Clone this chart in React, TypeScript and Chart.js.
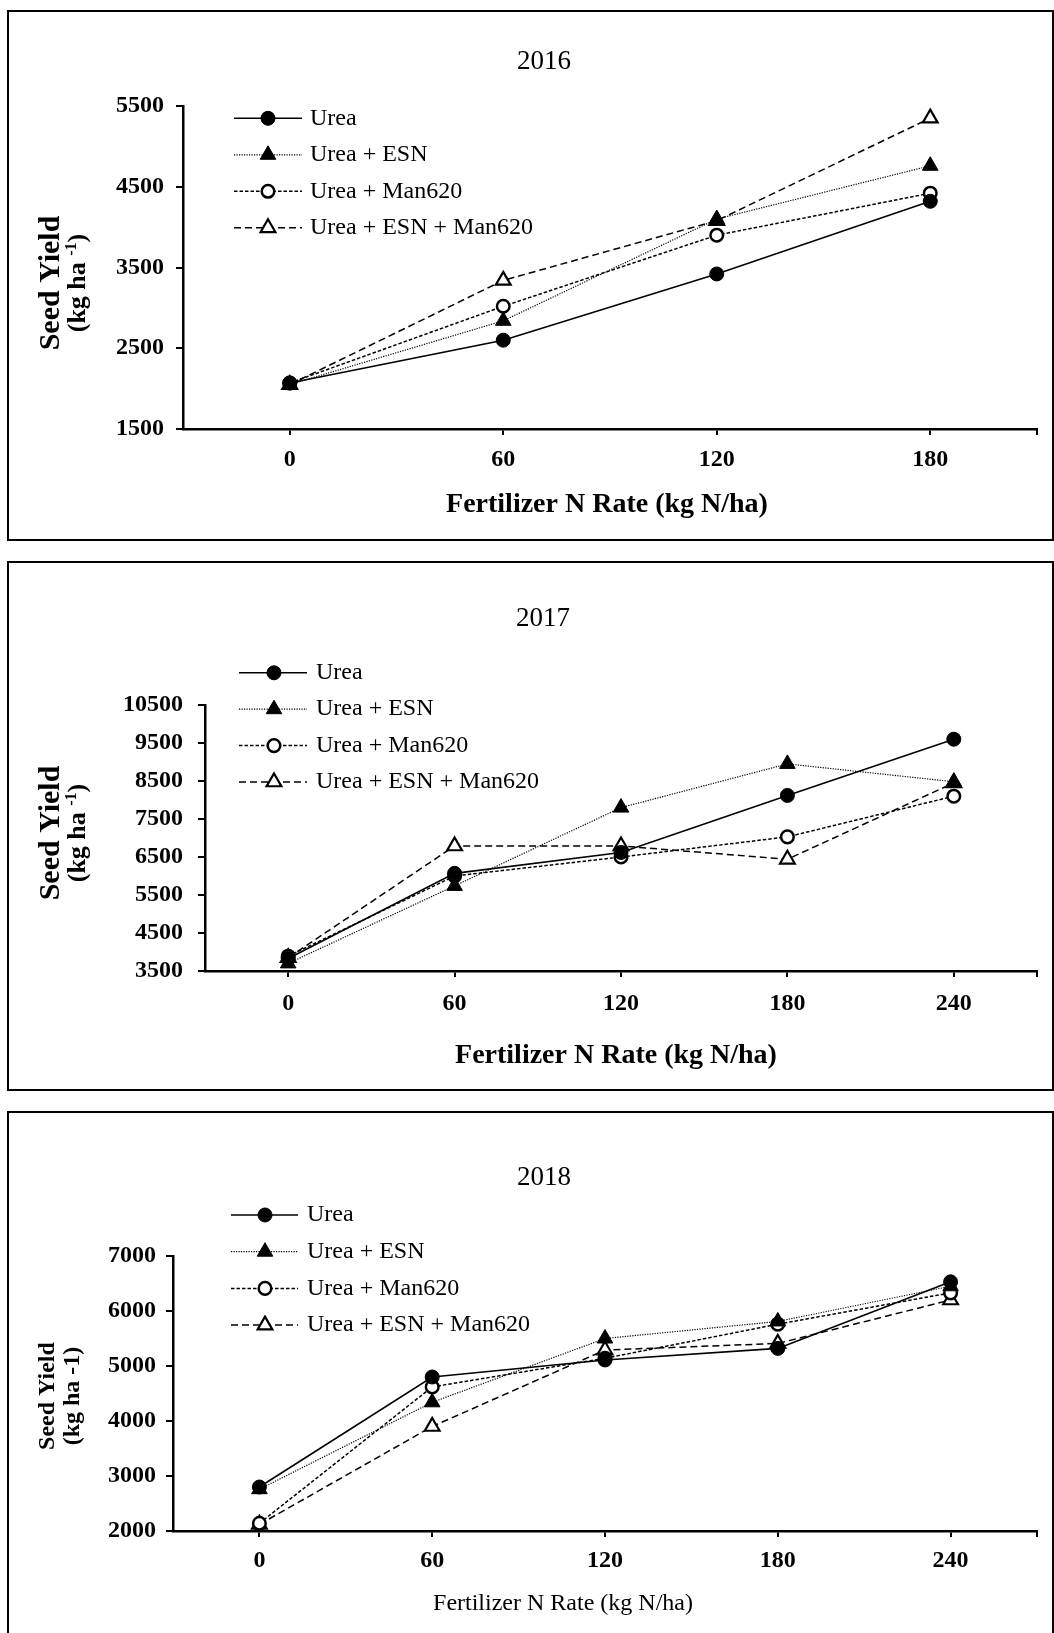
import React, { useEffect, useRef } from 'react';
import { Chart, registerables } from 'chart.js';

Chart.register(...registerables);

const FONT = "'Liberation Serif', 'Times New Roman', Times, serif";

const SERIES_NAMES = ['Urea', 'Urea + ESN', 'Urea + Man620', 'Urea + ESN + Man620'];

// ---- 2016 ----
const rates2016 = ['0', '60', '120', '180'];
const urea2016 = [2070, 2600, 3420, 4320];
const ureaEsn2016 = [2050, 2840, 4100, 4760];
const ureaMan2016 = [2070, 3020, 3900, 4420];
const ureaEsnMan2016 = [2050, 3340, 4080, 5350];
const yRange2016 = [1500, 5500];

// ---- 2017 ----
const rates2017 = ['0', '60', '120', '180', '240'];
const urea2017 = [3830, 6070, 6620, 8120, 9600];
const ureaEsn2017 = [3700, 5740, 7800, 8950, 8480];
const ureaMan2017 = [3890, 6000, 6500, 7030, 8100];
const ureaEsnMan2017 = [3850, 6790, 6790, 6440, 8450];
const yRange2017 = [3500, 10500];

// ---- 2018 ----
const rates2018 = ['0', '60', '120', '180', '240'];
const urea2018 = [2800, 4800, 5110, 5320, 6530];
const ureaEsn2018 = [2760, 4340, 5500, 5810, 6450];
const ureaMan2018 = [2140, 4620, 5140, 5760, 6330];
const ureaEsnMan2018 = [2120, 3900, 5290, 5410, 6200];
const yRange2018 = [2000, 7000];

const yStep = 1000;

type Style = {
  dash: number[];
  lineWidth: number;
  pointStyle: 'circle' | 'triangle';
  pointRadius: number;
  pointBorderWidth: number;
  pointFill: string;
};

const STYLES: Style[] = [
  { dash: [], lineWidth: 1.6, pointStyle: 'circle', pointRadius: 7, pointBorderWidth: 1, pointFill: '#000' },
  { dash: [1.2, 1.3], lineWidth: 1.2, pointStyle: 'triangle', pointRadius: 9, pointBorderWidth: 1, pointFill: '#000' },
  { dash: [3.5, 2], lineWidth: 1.5, pointStyle: 'circle', pointRadius: 6.3, pointBorderWidth: 2.5, pointFill: '#fff' },
  { dash: [7, 4], lineWidth: 1.5, pointStyle: 'triangle', pointRadius: 8.5, pointBorderWidth: 2.2, pointFill: '#fff' },
];

type UnitPart = { text: string; size: number; rise: number };

type PanelCfg = {
  top: number;
  height: number;
  labels: string[];
  series: number[][];
  yRange: number[];
  title: string;
  titleX: number;
  titleY: number;
  caLeft: number;
  caTop: number;
  caBottom: number;
  caRight: number;
  yTickPad: number;
  xTickPad: number;
  tickSize: number;
  xTitle: string;
  xTitleBold: boolean;
  xTitleSize: number;
  xTitleX: number;
  xTitleY: number;
  yTitleSize: number;
  yTitle1X: number;
  yTitle2X: number;
  yTitleCY: number;
  unitParts: UnitPart[];
  legX0: number;
  legX1: number;
  legMarkX: number;
  legTextX: number;
  legY: number;
  legStep: number;
};

const PANEL_LEFT = 7;
const PANEL_WIDTH = 1047;

const panels: PanelCfg[] = [
  {
    top: 10, height: 531,
    labels: rates2016,
    series: [urea2016, ureaEsn2016, ureaMan2016, ureaEsnMan2016],
    yRange: yRange2016,
    title: '2016', titleX: 537, titleY: 58.8,
    caLeft: 176, caTop: 96, caBottom: 419, caRight: 1030,
    yTickPad: 12, xTickPad: 10, tickSize: 24,
    xTitle: 'Fertilizer N Rate (kg N/ha)', xTitleBold: true, xTitleSize: 28, xTitleX: 600, xTitleY: 502,
    yTitleSize: 30, yTitle1X: 52, yTitle2X: 78, yTitleCY: 273,
    unitParts: [
      { text: '(kg ha ', size: 26, rise: 0 },
      { text: '-1', size: 16, rise: 9 },
      { text: ')', size: 26, rise: 0 },
    ],
    legX0: 227, legX1: 295, legMarkX: 261, legTextX: 303, legY: 108.3, legStep: 36.5,
  },
  {
    top: 561, height: 530,
    labels: rates2017,
    series: [urea2017, ureaEsn2017, ureaMan2017, ureaEsnMan2017],
    yRange: yRange2017,
    title: '2017', titleX: 536, titleY: 64.8,
    caLeft: 198, caTop: 144, caBottom: 410, caRight: 1030,
    yTickPad: 15, xTickPad: 12, tickSize: 24,
    xTitle: 'Fertilizer N Rate (kg N/ha)', xTitleBold: true, xTitleSize: 28, xTitleX: 609, xTitleY: 502,
    yTitleSize: 30, yTitle1X: 52, yTitle2X: 78, yTitleCY: 272,
    unitParts: [
      { text: '(kg ha ', size: 26, rise: 0 },
      { text: '-1', size: 16, rise: 9 },
      { text: ')', size: 26, rise: 0 },
    ],
    legX0: 232, legX1: 300, legMarkX: 267, legTextX: 309, legY: 111.8, legStep: 36.4,
  },
  {
    top: 1111, height: 530,
    labels: rates2018,
    series: [urea2018, ureaEsn2018, ureaMan2018, ureaEsnMan2018],
    yRange: yRange2018,
    title: '2018', titleX: 537, titleY: 74,
    caLeft: 166, caTop: 145, caBottom: 420, caRight: 1030,
    yTickPad: 10, xTickPad: 9, tickSize: 24,
    xTitle: 'Fertilizer N Rate (kg N/ha)', xTitleBold: false, xTitleSize: 24, xTitleX: 556, xTitleY: 499,
    yTitleSize: 24, yTitle1X: 47, yTitle2X: 72, yTitleCY: 285,
    unitParts: [{ text: '(kg ha -1)', size: 24, rise: 0 }],
    legX0: 224, legX1: 291, legMarkX: 258, legTextX: 300, legY: 104, legStep: 36.7,
  },
];

function drawMarker(ctx: CanvasRenderingContext2D, st: Style, x: number, y: number) {
  ctx.save();
  ctx.setLineDash([]);
  ctx.lineWidth = st.pointBorderWidth;
  ctx.strokeStyle = '#000';
  ctx.fillStyle = st.pointFill;
  ctx.beginPath();
  const r = st.pointRadius;
  if (st.pointStyle === 'circle') {
    ctx.arc(x, y, r, 0, Math.PI * 2);
  } else {
    for (let k = 0; k < 3; k++) {
      const a = (k * 2 * Math.PI) / 3;
      const px = x + Math.sin(a) * r;
      const py = y - Math.cos(a) * r;
      if (k === 0) ctx.moveTo(px, py);
      else ctx.lineTo(px, py);
    }
    ctx.closePath();
  }
  ctx.fill();
  ctx.stroke();
  ctx.restore();
}

function Panel({ cfg }: { cfg: PanelCfg }) {
  const ref = useRef<HTMLCanvasElement | null>(null);

  useEffect(() => {
    const canvas = ref.current;
    if (!canvas) return;

    const decor = {
      id: 'decor' + cfg.title,
      afterDraw(chart: any) {
        const ctx: CanvasRenderingContext2D = chart.ctx;
        const ca = chart.chartArea;
        ctx.save();
        ctx.fillStyle = '#000';
        ctx.strokeStyle = '#000';

        // title
        ctx.font = `normal 27px ${FONT}`;
        ctx.textAlign = 'center';
        ctx.textBaseline = 'alphabetic';
        ctx.fillText(cfg.title, cfg.titleX, cfg.titleY);

        // x axis title
        ctx.font = `${cfg.xTitleBold ? 'bold' : 'normal'} ${cfg.xTitleSize}px ${FONT}`;
        ctx.fillText(cfg.xTitle, cfg.xTitleX, cfg.xTitleY);

        // y axis title line 1
        ctx.save();
        ctx.translate(cfg.yTitle1X, cfg.yTitleCY);
        ctx.rotate(-Math.PI / 2);
        ctx.font = `bold ${cfg.yTitleSize}px ${FONT}`;
        ctx.textAlign = 'center';
        ctx.fillText('Seed Yield', 0, 0);
        ctx.restore();

        // y axis title line 2 (units)
        ctx.save();
        ctx.translate(cfg.yTitle2X, cfg.yTitleCY);
        ctx.rotate(-Math.PI / 2);
        ctx.textAlign = 'left';
        let total = 0;
        const widths = cfg.unitParts.map((p) => {
          ctx.font = `bold ${p.size}px ${FONT}`;
          const w = ctx.measureText(p.text).width;
          total += w;
          return w;
        });
        let cx = -total / 2;
        cfg.unitParts.forEach((p, i) => {
          ctx.font = `bold ${p.size}px ${FONT}`;
          ctx.fillText(p.text, cx, -p.rise);
          cx += widths[i];
        });
        ctx.restore();

        // right-end tick on x axis
        ctx.lineWidth = 2;
        ctx.beginPath();
        ctx.moveTo(ca.right, ca.bottom);
        ctx.lineTo(ca.right, ca.bottom + 6);
        ctx.stroke();

        // legend
        SERIES_NAMES.forEach((name, i) => {
          const st = STYLES[i];
          const y = cfg.legY + i * cfg.legStep;
          ctx.save();
          ctx.lineWidth = st.lineWidth;
          ctx.setLineDash(st.dash);
          ctx.beginPath();
          ctx.moveTo(cfg.legX0, y);
          ctx.lineTo(cfg.legX1, y);
          ctx.stroke();
          ctx.restore();
          drawMarker(ctx, st, cfg.legMarkX, y);
          ctx.font = `normal 24px ${FONT}`;
          ctx.textAlign = 'left';
          ctx.textBaseline = 'middle';
          ctx.fillText(name, cfg.legTextX, y);
        });

        ctx.restore();
      },
    };

    const tickFont = { family: FONT, size: cfg.tickSize, weight: 'bold' as const };

    const chart = new Chart(canvas, {
      type: 'line',
      data: {
        labels: cfg.labels,
        datasets: cfg.series.map((data, i) => {
          const st = STYLES[i];
          return {
            label: SERIES_NAMES[i],
            data,
            borderColor: '#000',
            borderWidth: st.lineWidth,
            borderDash: st.dash,
            pointStyle: st.pointStyle,
            pointRadius: st.pointRadius,
            pointHoverRadius: st.pointRadius,
            pointBorderWidth: st.pointBorderWidth,
            pointBackgroundColor: st.pointFill,
            pointBorderColor: '#000',
            fill: false,
            tension: 0,
            clip: false as any,
          };
        }),
      },
      options: {
        animation: false,
        responsive: false,
        maintainAspectRatio: false,
        devicePixelRatio: 1,
        events: [],
        layout: {
          padding: { left: 0, top: cfg.caTop, right: PANEL_WIDTH - cfg.caRight, bottom: 0 },
        },
        plugins: {
          legend: { display: false },
          title: { display: false },
          tooltip: { enabled: false },
        },
        scales: {
          x: {
            type: 'category',
            offset: true,
            grid: {
              display: true,
              drawOnChartArea: false,
              drawTicks: true,
              tickLength: 6,
              color: '#000',
              lineWidth: 2,
            },
            border: { display: true, color: '#000', width: 2.5 },
            ticks: {
              color: '#000',
              font: tickFont,
              padding: cfg.xTickPad,
              maxRotation: 0,
              autoSkip: false,
            },
            afterFit: (s: any) => {
              s.height = cfg.height - cfg.caBottom;
            },
          },
          y: {
            type: 'linear',
            min: cfg.yRange[0],
            max: cfg.yRange[1],
            grid: {
              display: true,
              drawOnChartArea: false,
              drawTicks: true,
              tickLength: 7,
              color: '#000',
              lineWidth: 2,
            },
            border: { display: true, color: '#000', width: 2.5 },
            ticks: {
              stepSize: yStep,
              color: '#000',
              font: tickFont,
              padding: cfg.yTickPad,
              callback: (v: any) => String(v),
            },
            afterFit: (s: any) => {
              s.width = cfg.caLeft;
            },
          },
        },
      },
      plugins: [decor],
    });

    return () => {
      chart.destroy();
    };
  }, [cfg]);

  return (
    <div
      style={{
        position: 'absolute',
        left: PANEL_LEFT,
        top: cfg.top,
        width: PANEL_WIDTH,
        height: cfg.height,
        background: '#fff',
      }}
    >
      <canvas
        ref={ref}
        width={PANEL_WIDTH}
        height={cfg.height}
        style={{ position: 'absolute', left: 0, top: 0, width: PANEL_WIDTH, height: cfg.height, display: 'block' }}
      />
      <div
        style={{
          position: 'absolute',
          left: 0,
          top: 0,
          width: PANEL_WIDTH,
          height: cfg.height,
          border: '2px solid #000',
          boxSizing: 'border-box',
          pointerEvents: 'none',
        }}
      />
    </div>
  );
}

export default function App() {
  return (
    <div style={{ position: 'absolute', left: 0, top: 0, width: 1054, height: 1633, background: '#fff', overflow: 'hidden' }}>
      {panels.map((p) => (
        <Panel key={p.title} cfg={p} />
      ))}
    </div>
  );
}
